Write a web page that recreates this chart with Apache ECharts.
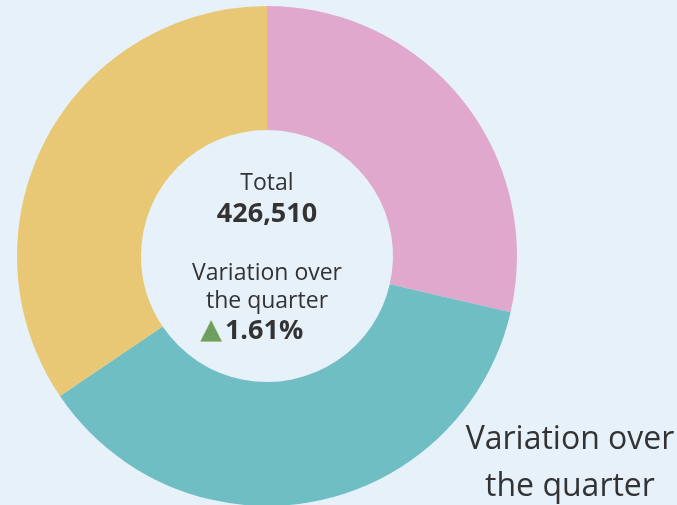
<!DOCTYPE html>
<html>
<head>
<meta charset="utf-8">
<style>
  html, body { margin: 0; padding: 0; background: #e7f1fa; }
  #chart { width: 677px; height: 505px; }
</style>
<script src="https://cdn.jsdelivr.net/npm/echarts@6/dist/echarts.min.js"></script>
</head>
<body>
<div id="chart"></div>
<script>
// 各分区数值
const segNames = ['Segment A', 'Segment B', 'Segment C'];
const segValues = [122000, 157500, 147010];
const segColors = ['#dfa8cc', '#6fbec3', '#e8c874'];
const variationPct = 1.61;
const variationLabel = 'Variation over\nthe quarter';

const chart = echarts.init(document.getElementById('chart'));

const total = segValues.reduce((s, v) => s + v, 0);
const textColor = '#333333';
const font = '"Open Sans", sans-serif';

const option = {
  backgroundColor: '#e7f1fa',
  series: [
    {
      type: 'pie',
      center: [267, 256],
      radius: [126, 250],
      startAngle: 90,
      clockwise: true,
      silent: true,
      label: { show: false },
      labelLine: { show: false },
      data: segNames.map((n, i) => ({
        name: n,
        value: segValues[i],
        itemStyle: { color: segColors[i] }
      }))
    }
  ],
  graphic: [
    {
      type: 'text',
      style: {
        x: 267, y: 183,
        text: 'Total',
        fill: textColor,
        font: '23px ' + font,
        align: 'center', verticalAlign: 'middle'
      }
    },
    {
      type: 'text',
      style: {
        x: 267, y: 214,
        text: total.toLocaleString('en-US'),
        fill: textColor,
        font: 'bold 27px ' + font,
        align: 'center', verticalAlign: 'middle'
      }
    },
    {
      type: 'text',
      style: {
        x: 267, y: 287,
        text: variationLabel,
        fill: textColor,
        font: '23px ' + font,
        lineHeight: 28,
        align: 'center', verticalAlign: 'middle'
      }
    },
    {
      type: 'text',
      style: {
        x: 252, y: 331,
        text: '{tri|▲} {val|' + variationPct.toFixed(2) + '%}',
        align: 'center', verticalAlign: 'middle',
        rich: {
          tri: { fill: '#6f9e5e', fontSize: 27, fontFamily: 'DejaVu Sans', stroke: '#a8cc92', lineWidth: 1 },
          val: { fill: textColor, fontSize: 27, fontWeight: 'bold', fontFamily: font }
        }
      }
    },
    {
      type: 'text',
      style: {
        x: 570, y: 463,
        text: variationLabel,
        fill: textColor,
        font: '32px ' + font,
        lineHeight: 47,
        align: 'center', verticalAlign: 'middle'
      }
    }
  ]
};

chart.setOption(option);
</script>
</body>
</html>
